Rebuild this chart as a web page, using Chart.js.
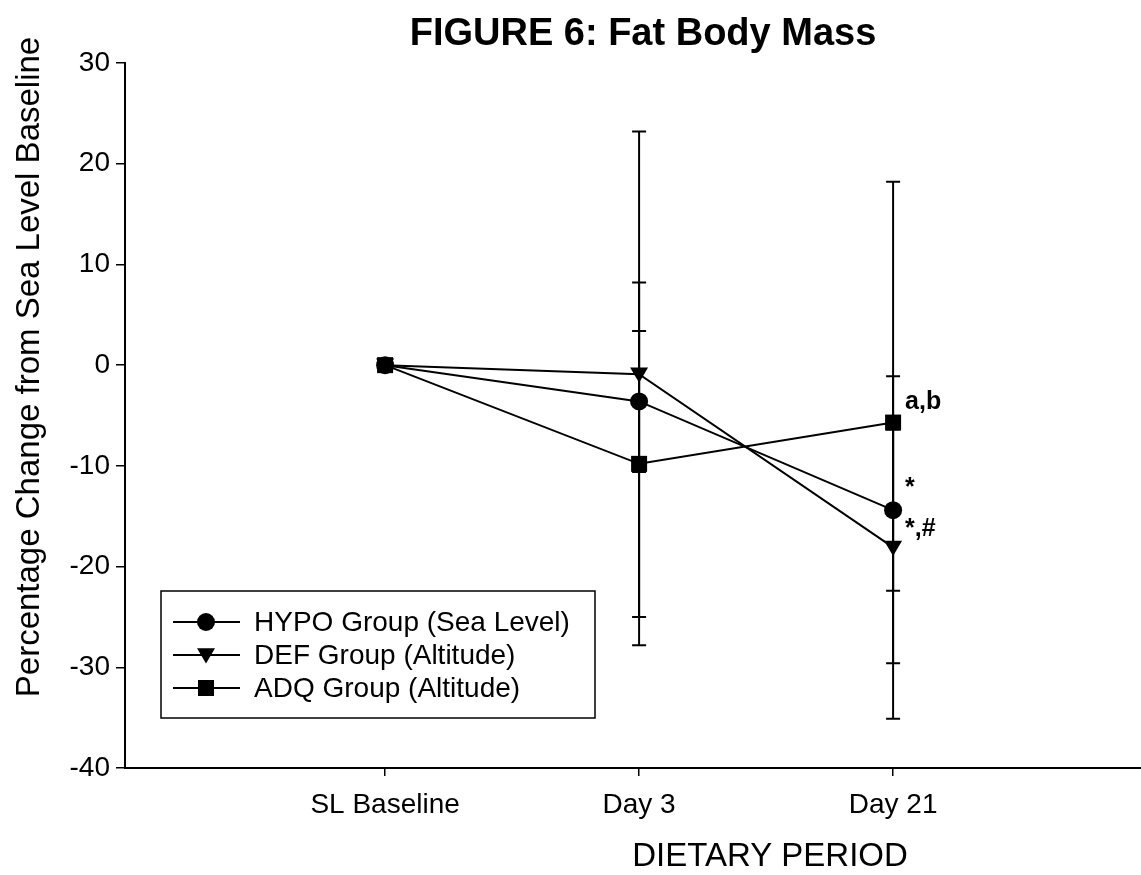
<!DOCTYPE html>
<html>
<head>
<meta charset="utf-8">
<script src="https://cdn.jsdelivr.net/npm/chart.js@4/dist/chart.umd.min.js"></script>
<style>
  html, body { margin: 0; padding: 0; background: #fff; overflow: hidden; }
  #wrap { position: relative; width: 1141px; height: 875px; }
</style>
</head>
<body>
<div id="wrap"><canvas id="chart_fat"></canvas></div>
<script>
// dietary periods (x positions 0,1,2)
const periods = ['SL Baseline', 'Day 3', 'Day 21'];

// mean percentage change from sea level baseline
const hypoMean = [0, -3.6, -14.4];
const defMean  = [0, -0.9, -18.1];
const adqMean  = [0, -9.8, -5.7];

// error bar half-widths (symmetric)
const hypoErr = [0, 7.0, 8.0];
const defErr  = [0, 24.1, 17.0];
const adqErr  = [0, 18.0, 23.9];

// significance marks at Day 21
const marks = [
    { series: 2, text: 'a,b' },
    { series: 0, text: '*' },
    { series: 1, text: '*,#' }
];

const yTicks = [30, 20, 10, 0, -10, -20, -30, -40];

const seriesNames = ['HYPO Group (Sea Level)', 'DEF Group (Altitude)', 'ADQ Group (Altitude)'];
const means = [hypoMean, defMean, adqMean];
const errs = [hypoErr, defErr, adqErr];
const shapes = ['circle', 'triangle', 'rect'];
const radii = [9, 9, 8];

const SANS = '"Liberation Sans", Arial, sans-serif';

function drawMarker(ctx, shape, x, y, r) {
    ctx.save();
    ctx.fillStyle = '#000';
    ctx.beginPath();
    if (shape === 'circle') {
        ctx.arc(x, y, r, 0, Math.PI * 2);
    } else if (shape === 'triangle') {
        // pointing down
        ctx.moveTo(x - r, y - r * 0.75);
        ctx.lineTo(x + r, y - r * 0.75);
        ctx.lineTo(x, y + r * 0.95);
        ctx.closePath();
    } else {
        ctx.rect(x - r, y - r, r * 2, r * 2);
    }
    ctx.fill();
    ctx.restore();
}

const extras = {
    id: 'extras',
    beforeDatasetsDraw(chart) {
        const ctx = chart.ctx;
        const xs = chart.scales.x, ys = chart.scales.y;
        ctx.save();
        ctx.strokeStyle = '#000';
        ctx.lineWidth = 2;
        errs.forEach((err, s) => {
            err.forEach((e, i) => {
                if (!e) return;
                const x = xs.getPixelForValue(i);
                const y1 = ys.getPixelForValue(means[s][i] + e);
                const y2 = ys.getPixelForValue(means[s][i] - e);
                ctx.beginPath();
                ctx.moveTo(x, y1); ctx.lineTo(x, y2);
                ctx.moveTo(x - 7, y1); ctx.lineTo(x + 7, y1);
                ctx.moveTo(x - 7, y2); ctx.lineTo(x + 7, y2);
                ctx.stroke();
            });
        });
        ctx.restore();
    },
    afterDraw(chart) {
        const ctx = chart.ctx;
        const xs = chart.scales.x, ys = chart.scales.y;
        ctx.save();
        ctx.fillStyle = '#000';

        // title
        ctx.font = 'bold 38px ' + SANS;
        ctx.textAlign = 'center';
        ctx.textBaseline = 'middle';
        ctx.fillText('FIGURE 6: Fat Body Mass', 643, 35);

        // y axis title
        ctx.save();
        ctx.translate(30, 367);
        ctx.rotate(-Math.PI / 2);
        ctx.font = '33px ' + SANS;
        ctx.fillText('Percentage Change from Sea Level Baseline', 0, 0);
        ctx.restore();

        // x axis title
        ctx.font = '33px ' + SANS;
        ctx.fillText('DIETARY PERIOD', 770, 857);

        // significance marks
        ctx.font = 'bold 25px ' + SANS;
        ctx.textAlign = 'left';
        const xd = xs.getPixelForValue(2);
        marks.forEach(m => {
            const y = ys.getPixelForValue(means[m.series][2]);
            const dy = m.text === 'a,b' ? -20 : (m.text === '*' ? -22 : -18);
            ctx.fillText(m.text, xd + 12, y + dy);
        });

        // legend box
        const bx = 161, by = 591, bw = 434, bh = 127;
        ctx.lineWidth = 1.5;
        ctx.strokeStyle = '#000';
        ctx.strokeRect(bx, by, bw, bh);
        ctx.font = '28px ' + SANS;
        ctx.textBaseline = 'middle';
        seriesNames.forEach((name, s) => {
            const y = by + 31 + s * 33;
            ctx.lineWidth = 2;
            ctx.beginPath();
            ctx.moveTo(173, y); ctx.lineTo(240, y);
            ctx.stroke();
            drawMarker(ctx, shapes[s], 206, y, radii[s]);
            ctx.fillText(name, 254, y + 1);
        });
        ctx.restore();
    }
};

new Chart(document.getElementById('chart_fat'), {
    type: 'line',
    data: {
        datasets: means.map((m, s) => ({
            label: seriesNames[s],
            data: m.map((v, i) => ({ x: i, y: v })),
            borderColor: '#000',
            backgroundColor: '#000',
            borderWidth: 2,
            pointStyle: shapes[s] === 'rect' ? 'rect' : (shapes[s] === 'circle' ? 'circle' : false),
            pointRadius: shapes[s] === 'triangle' ? 0 : (shapes[s] === 'rect' ? radii[s] * 1.414 : radii[s]),
            pointBorderWidth: 0,
            pointHoverRadius: 0,
            tension: 0,
            clip: false
        }))
    },
    options: {
        responsive: true,
        maintainAspectRatio: false,
        animation: false,
        events: [],
        layout: { autoPadding: false, padding: { top: 63, right: 0, left: 0, bottom: 0 } },
        scales: {
            x: {
                type: 'linear',
                min: -1.024,
                max: 2.976,
                afterBuildTicks: axis => { axis.ticks = periods.map((p, i) => ({ value: i })); },
                afterFit: axis => { axis.height = 107; axis.paddingRight = 0; axis.paddingLeft = 0; },
                border: { display: true, color: '#000', width: 2 },
                grid: { display: true, drawOnChartArea: false, drawTicks: true, tickLength: 8, color: '#000', lineWidth: 1.5 },
                ticks: {
                    padding: 12,
                    color: '#000',
                    maxRotation: 0,
                    font: { family: SANS, size: 28 },
                    callback: v => periods[v] !== undefined ? periods[v] : ''
                }
            },
            y: {
                min: -40,
                max: 30,
                afterBuildTicks: axis => { axis.ticks = yTicks.map(v => ({ value: v })); },
                afterFit: axis => { axis.width = 125; },
                border: { display: true, color: '#000', width: 2 },
                grid: { display: true, drawOnChartArea: false, drawTicks: true, tickLength: 9, color: '#000', lineWidth: 1.5 },
                ticks: {
                    padding: 6,
                    color: '#000',
                    font: { family: SANS, size: 28 }
                }
            }
        },
        plugins: {
            legend: { display: false },
            tooltip: { enabled: false },
            title: { display: false }
        }
    },
    plugins: [extras, {
        id: 'triangles',
        afterDatasetsDraw(chart) {
            const xs = chart.scales.x, ys = chart.scales.y;
            defMean.forEach((v, i) => {
                drawMarker(chart.ctx, 'triangle', xs.getPixelForValue(i), ys.getPixelForValue(v), radii[1]);
            });
        }
    }]
});
</script>
</body>
</html>
